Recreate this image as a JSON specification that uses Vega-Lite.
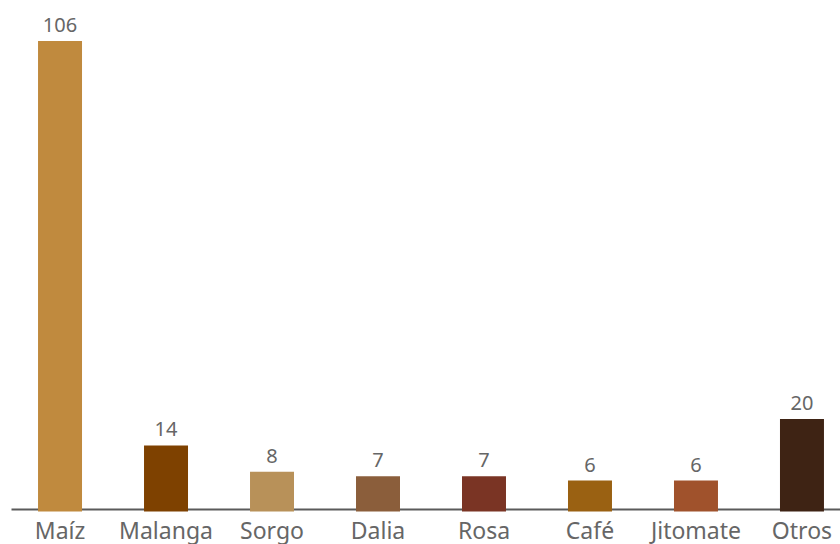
{
  "$schema": "https://vega.github.io/schema/vega-lite/v6.json",
  "autosize": "none",
  "width": 840,
  "height": 466,
  "padding": {"left": 11, "top": 41, "right": 0, "bottom": 37},
  "background": "white",
  "config": {"view": {"stroke": null}, "font": "Noto Sans"},
  "data": {
    "values": [
      {"cultivo": "Maíz", "n": 106, "color": "#C08A3E"},
      {"cultivo": "Malanga", "n": 14, "color": "#7E4100"},
      {"cultivo": "Sorgo", "n": 8, "color": "#B89159"},
      {"cultivo": "Dalia", "n": 7, "color": "#8B5E3B"},
      {"cultivo": "Rosa", "n": 7, "color": "#7A3424"},
      {"cultivo": "Café", "n": 6, "color": "#9A6112"},
      {"cultivo": "Jitomate", "n": 6, "color": "#A0522C"},
      {"cultivo": "Otros", "n": 20, "color": "#3E2314"}
    ]
  },
  "encoding": {
    "x": {
      "field": "cultivo",
      "type": "nominal",
      "sort": null,
      "scale": {"paddingInner": 0.585, "paddingOuter": 0.255},
      "axis": {
        "title": null,
        "labelAngle": 0,
        "ticks": false,
        "offset": 2,
        "labelFontSize": 23,
        "labelColor": "#666666",
        "labelPadding": 11,
        "domainColor": "#5a5a5a",
        "domainWidth": 2
      }
    },
    "y": {
      "field": "n",
      "type": "quantitative",
      "scale": {"domain": [0, 106]},
      "axis": null
    }
  },
  "layer": [
    {
      "mark": {"type": "bar", "y2Offset": 4.6},
      "encoding": {
        "y2": {"datum": 0},
        "color": {"field": "color", "type": "nominal", "scale": null}
      }
    },
    {
      "mark": {"type": "text", "dy": -15, "fontSize": 20, "color": "#666666"},
      "encoding": {"text": {"field": "n", "type": "quantitative"}}
    }
  ]
}
